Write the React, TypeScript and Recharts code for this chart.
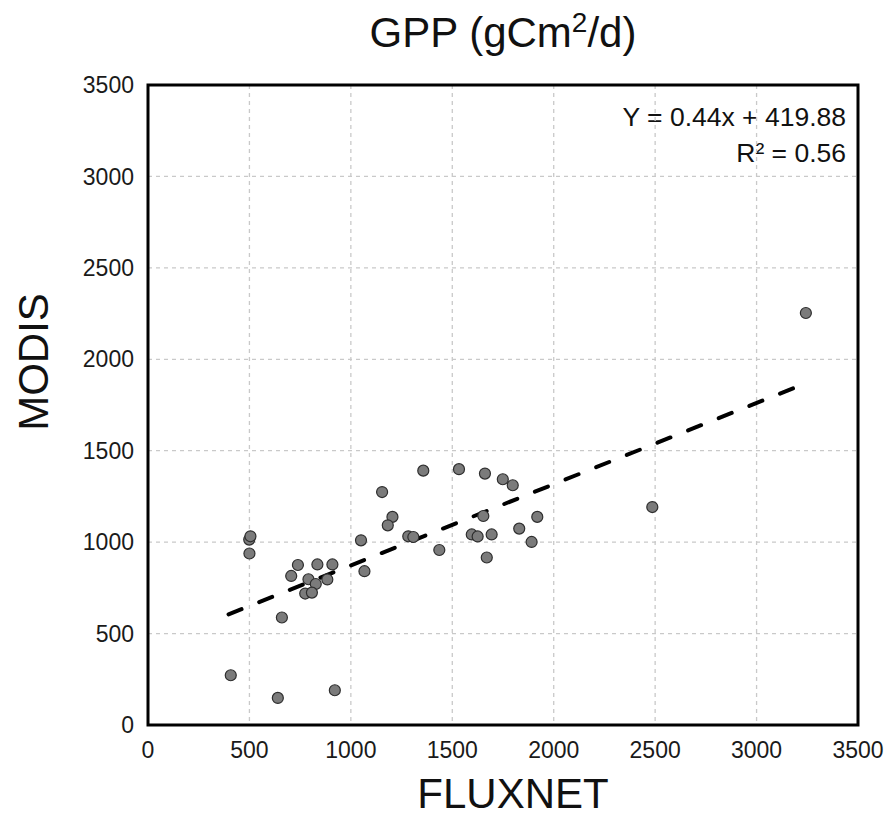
import React from 'react';
import {
  ScatterChart,
  Scatter,
  XAxis,
  YAxis,
  CartesianGrid,
  ReferenceArea,
  ReferenceLine,
  Label,
} from 'recharts';

const fluxnet = [
  408, 640, 921, 660, 500, 499, 505, 739, 706, 835, 909, 791, 827, 775, 808, 884,
  1050, 1067, 1154, 1205, 1182, 1283, 1308, 1357, 1436, 1533, 1661, 1749, 1798,
  1596, 1625, 1653, 1694, 1670, 1919, 1830, 1891, 2486, 3243,
];
const modis = [
  272, 148, 190, 588, 938, 1014, 1032, 875, 815, 878, 878, 797, 771, 719, 724, 796,
  1010, 841, 1274, 1138, 1092, 1032, 1028, 1391, 957, 1399, 1375, 1344, 1311,
  1042, 1031, 1143, 1042, 916, 1138, 1074, 1001, 1192, 2253,
];
const ticks = [0, 500, 1000, 1500, 2000, 2500, 3000, 3500];
const trendStart = { x: 397, y: 605 };
const trendEnd = { x: 3250, y: 1872 };
const equationText = 'Y = 0.44x + 419.88';
const r2Text = 'R² = 0.56';

const points = fluxnet.map((x, i) => ({ x, y: modis[i] }));

const FONT = '"Liberation Sans", Arial, Helvetica, sans-serif';

const Dot = (props: any) => {
  const { cx, cy } = props;
  if (cx == null || cy == null) return <g />;
  return <circle cx={cx} cy={cy} r={5.5} fill="#7b7b7b" stroke="#2e2e2e" strokeWidth={1.2} />;
};

const YTitle = (props: any) => (
  <text
    x={48}
    y={362}
    transform="rotate(-90 48 362)"
    textAnchor="middle"
    fontFamily={FONT}
    fontSize={42}
    fill="#111"
  >
    MODIS
  </text>
);

export default function App() {
  return (
    <div style={{ position: 'absolute', left: 0, top: 0, width: 891, height: 825, background: '#fff' }}>
      <svg
        width={891}
        height={825}
        style={{ position: 'absolute', left: 0, top: 0, pointerEvents: 'none' }}
      >
        <text x={503} y={47} textAnchor="middle" fontFamily={FONT} fontSize={42} fill="#111">
          GPP (gCm<tspan fontSize={28} dy={-15}>2</tspan><tspan dy={15}>/d)</tspan>
        </text>
        <text x={846} y={126} textAnchor="end" fontFamily={FONT} fontSize={26.5} fill="#111">
          {equationText}
        </text>
        <text x={846} y={162} textAnchor="end" fontFamily={FONT} fontSize={26.5} fill="#111">
          {r2Text}
        </text>
      </svg>
      <ScatterChart
        width={891}
        height={825}
        margin={{ top: 85, right: 33, bottom: 0, left: 0 }}
        style={{ position: 'absolute', left: 0, top: 0 }}
      >
        <CartesianGrid stroke="#c9c9c9" strokeDasharray="4 4" strokeWidth={1.3} />
        <XAxis
          type="number"
          dataKey="x"
          domain={[0, 3500]}
          ticks={ticks}
          interval={0}
          height={100}
          axisLine={false}
          tickLine={false}
          tickSize={0}
          tickMargin={17}
          tick={{ fontFamily: FONT, fontSize: 23, fill: '#1a1a1a' }}
        >
          <Label
            value="FLUXNET"
            position="insideBottom"
            offset={17}
            dx={10}
            style={{ fontFamily: FONT, fontSize: 42, fill: '#111' }}
          />
        </XAxis>
        <YAxis
          type="number"
          dataKey="y"
          domain={[0, 3500]}
          ticks={ticks}
          interval={0}
          width={148}
          axisLine={false}
          tickLine={false}
          tickSize={0}
          tickMargin={14}
          tick={{ fontFamily: FONT, fontSize: 23, fill: '#1a1a1a' }}
        >
          <Label content={<YTitle />} />
        </YAxis>
        <ReferenceLine
          segment={[trendStart, trendEnd]}
          stroke="#000"
          strokeWidth={4}
          strokeDasharray="14 19"
          strokeLinecap="round"
          ifOverflow="visible"
        />
        <Scatter data={points} shape={<Dot />} isAnimationActive={false} />
        <ReferenceArea
          x1={0}
          x2={3500}
          y1={0}
          y2={3500}
          fill="none"
          fillOpacity={0}
          stroke="#000"
          strokeWidth={3}
          ifOverflow="visible"
        />
      </ScatterChart>
    </div>
  );
}
